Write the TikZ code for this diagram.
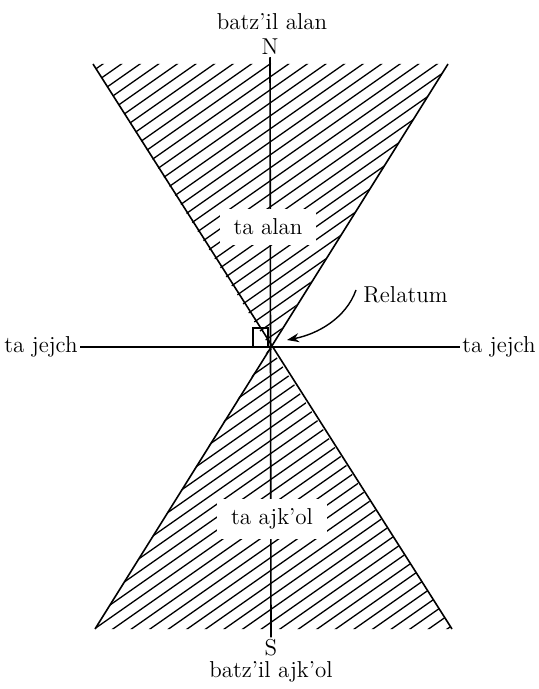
\documentclass[tikz,border=0pt]{standalone}
\usetikzlibrary{arrows.meta}

\begin{document}
\begin{tikzpicture}[
  x=0.5pt, y=-0.5pt,
  lbl/.style={font=\fontsize{11.5}{13}\selectfont, inner sep=1pt},
  region/.style={lbl, fill=white, inner xsep=7pt, inner ysep=5pt},
  axis/.style={line width=0.8pt},
  hatch/.style={line width=0.65pt},
  edge/.style={line width=0.8pt}
]
\useasboundingbox (0,0) rectangle (538,689);

% Relatum and cone corners
\coordinate (O) at (270,347);
\coordinate (tl) at (93,64);
\coordinate (tr) at (448,64);
\coordinate (bl) at (95,629);
\coordinate (br) at (452,629);

% Hatched cones
\begin{scope}
  \clip (tl) -- (tr) -- (O) -- cycle (bl) -- (br) -- (O) -- cycle;
  \foreach \b in {110,123,...,970}
    \draw[hatch] (80,\b-0.7*80) -- (470,\b-0.7*470);
\end{scope}
\draw[edge] (tl) -- (br);
\draw[edge] (tr) -- (bl);

% Cardinal labels
\node[lbl] (north) at (272,22) {batz'il alan};
\node[lbl] (N) at (270,47) {N};
\node[lbl] (S) at (271,648) {S};
\node[lbl] (south) at (271,672) {batz'il ajk'ol};
\node[lbl, anchor=east] (west) at (80,347) {ta jejch};
\node[lbl, anchor=west] (east) at (460,347) {ta jejch};

% Axes
\draw[axis] (N.south) -- (S.north);
\draw[axis] (west.east) -- (east.west);

% Region labels
\node[region] (front) at (268,227) {ta alan};
\node[region] (back) at (272,519) {ta ajk'ol};

% Right angle mark
\draw[line width=0.6pt] (253,347) -- (253,328) -- (268,328) -- (268,347);

% Relatum pointer
\node[lbl, anchor=west] (rel) at (361,295) {Relatum};
\coordinate (relfoot) at (356,290);
\coordinate (tip) at (287,340);
\draw[line width=0.7pt, -{Stealth[length=6pt, width=4.5pt]}]
  (relfoot) .. controls (346,318) and (318,334) .. (tip);
\end{tikzpicture}
\end{document}
